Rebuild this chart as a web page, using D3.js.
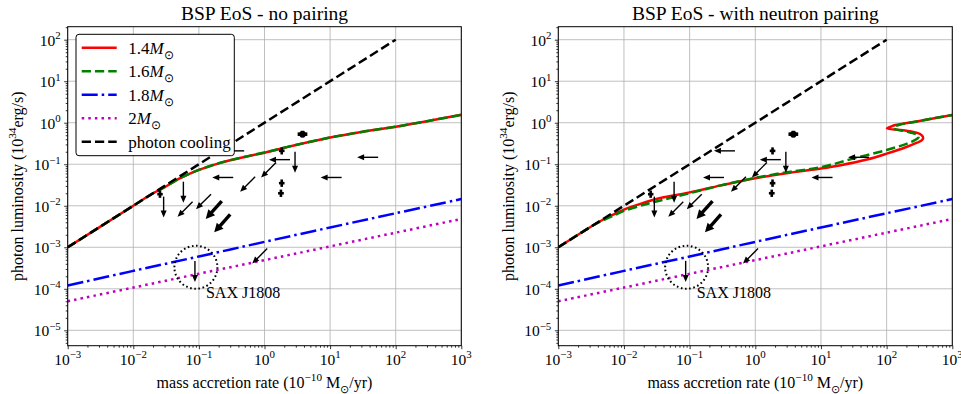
<!DOCTYPE html>
<html>
<head>
<meta charset="utf-8">
<script src="https://cdn.jsdelivr.net/npm/d3@7"></script>
<style>
  body { margin: 0; background: #fff; }
  svg { display: block; }
  text { font-family: "Liberation Serif", "Times New Roman", serif; fill: #000; }
</style>
</head>
<body>
<svg id="chart" width="961" height="394"></svg>
<script>
// ---------------------------------------------------------------
// Cooling curves: photon luminosity (1e34 erg/s) vs accretion rate (1e-10 Msun/yr)
// ---------------------------------------------------------------
const rateGrid = [1e-3, 1e-2, 1e-1, 1, 10, 100, 1000];
const lum18 = [1.2e-4, 2.7e-4, 6.0e-4, 1.35e-3, 3.0e-3, 6.6e-3, 1.45e-2];
const lum20 = [5.0e-5, 1.07e-4, 2.3e-4, 4.9e-4, 1.05e-3, 2.25e-3, 4.8e-3];

const coolRate = [1e-3, 1e2];
const coolLum = [1e-3, 1e2];

// no pairing (1.4 and 1.6 Msun nearly coincide)
const npRate14 = [0.001, 0.01, 0.02, 0.03, 0.05, 0.07, 0.1, 0.2, 0.5, 1, 3, 10, 30, 100, 300, 1000];
const npLum14  = [0.001, 0.01, 0.02, 0.028, 0.045, 0.058, 0.073, 0.105, 0.15, 0.19, 0.29, 0.44, 0.6, 0.8, 1.09, 1.55];
const npRate16 = [0.001, 0.01, 0.02, 0.03, 0.05, 0.07, 0.1, 0.2, 0.5, 1, 3, 10, 30, 100, 300, 1000];
const npLum16  = [0.001, 0.01, 0.02, 0.028, 0.045, 0.058, 0.073, 0.106, 0.151, 0.192, 0.292, 0.44, 0.6, 0.8, 1.09, 1.55];

// with neutron pairing (S-shaped branch at high accretion rate)
const prRate14 = [0.001, 0.003, 0.005, 0.007, 0.01, 0.02, 0.03, 0.1, 0.3, 1, 3, 10, 20, 50, 100, 200, 290, 345, 360, 340, 300, 200, 101, 115, 136, 300, 1000];
const prLum14  = [0.001, 0.003, 0.0048, 0.0062, 0.0081, 0.0118, 0.0143, 0.021, 0.031, 0.046, 0.061, 0.079, 0.095, 0.13, 0.18, 0.26, 0.33, 0.38, 0.43, 0.5, 0.56, 0.64, 0.73, 0.8, 0.88, 1.09, 1.53];
const prRate16 = [0.001, 0.003, 0.005, 0.007, 0.01, 0.02, 0.03, 0.1, 0.3, 1, 3, 10, 30, 100, 200, 260, 305, 300, 250, 205, 128, 140, 300, 1000];
const prLum16  = [0.001, 0.003, 0.0046, 0.0058, 0.0075, 0.0105, 0.0125, 0.02, 0.031, 0.047, 0.064, 0.085, 0.135, 0.22, 0.31, 0.37, 0.44, 0.5, 0.56, 0.61, 0.73, 0.84, 1.09, 1.53];

// ---------------------------------------------------------------
// Observed sources
// ---------------------------------------------------------------
// upper limits on accretion rate (arrow to the left)
const limRateX = [54, 15, 2.45, 0.334, 0.49];
const limRateY = [0.147, 0.048, 0.129, 0.048, 0.21];
// upper limits on luminosity (arrow down)
const limLumX = [2.92, 0.058, 0.029, 0.087];
const limLumY = [0.2, 0.038, 0.0166, 4.7e-4];
// upper limits on both (arrow down-left)
const limBothX = [1.5, 0.72, 0.08, 0.153, 1.1];
const limBothY = [0.11, 0.05, 0.0125, 0.019, 9.3e-4];
// several overlapping limits (heavy arrows)
const limManyX = [0.223, 0.3];
const limManyY = [0.013, 0.0062];
// measured sources with error bars
const srcX    = [3.8, 1.83, 1.83, 1.78, 0.0255];
const srcY    = [0.53, 0.21, 0.035, 0.020, 0.019];
const srcXLo  = [3.2, 1.66, 1.66, 1.61, 0.0232];
const srcXHi  = [4.5, 2.02, 2.02, 1.97, 0.0281];
const srcYLo  = [0.44, 0.172, 0.0285, 0.0163, 0.0155];
const srcYHi  = [0.64, 0.255, 0.043, 0.0245, 0.0233];
// highlighted source
const saxName = "SAX J1808";
const saxX = 0.09, saxY = 3.3e-4;
const saxLabelX = 0.128, saxLabelY = 6.0e-5;

// ---------------------------------------------------------------
// Axes, labels
// ---------------------------------------------------------------
const xTickExp = [-3, -2, -1, 0, 1, 2, 3];
const yTickExp = [-5, -4, -3, -2, -1, 0, 1, 2];
const panelTitles = ["BSP EoS - no pairing", "BSP EoS - with neutron pairing"];
const massLabels = ["1.4", "1.6", "1.8", "2"];
const coolingLabel = "photon cooling";

// ---------------------------------------------------------------
const svg = d3.select("#chart");
svg.append("rect").attr("width", 961).attr("height", 394).attr("fill", "#fff");

const plotTop = 26.7, plotBottom = 345.7;
const panels = [
  { left: 67.7, right: 461.3 },
  { left: 558.3, right: 952.3 }
];

const styles = {
  red:     { color: "#ff0000", dash: null },
  green:   { color: "#008000", dash: "9.25,4" },
  blue:    { color: "#0000ff", dash: "16,4,2.5,4" },
  magenta: { color: "#bf00bf", dash: "2.5,4.1" },
  black:   { color: "#000000", dash: "9.25,4" }
};
const LW = 2.5;

// text with superscripts / subscripts; parts: [str, kind] where kind in "", "sup", "sub", "it"
function richText(sel, parts, size) {
  let shift = 0;
  parts.forEach(([s, kind]) => {
    const t = sel.append("tspan").text(s);
    let target = 0, fs = size;
    if (kind === "sup") { target = -0.42 * size; fs = size * 0.7; }
    if (kind === "sub") { target = 0.3 * size; fs = size * 0.7; }
    if (kind === "it") t.attr("font-style", "italic");
    t.attr("font-size", fs).attr("dy", target - shift);
    shift = target;
  });
  return sel;
}

function pow10Parts(e) {
  return [["10", ""], [(e < 0 ? "\u2212" : "") + Math.abs(e), "sup"]];
}

function arrow(g, x1, y1, dx, dy, lw, hl, hw) {
  const len = Math.hypot(dx, dy), ux = dx / len, uy = dy / len;
  const x2 = x1 + dx, y2 = y1 + dy;
  const bx = x2 - ux * hl, by = y2 - uy * hl;
  g.append("line").attr("x1", x1).attr("y1", y1).attr("x2", bx + ux * 0.5).attr("y2", by + uy * 0.5)
    .attr("stroke", "#000").attr("stroke-width", lw);
  g.append("path")
    .attr("d", `M${x2},${y2}L${bx - uy * hw},${by + ux * hw}L${bx + uy * hw},${by - ux * hw}Z`)
    .attr("fill", "#000");
}

panels.forEach((p, pi) => {
  const x = d3.scaleLog().domain([1e-3, 1e3]).range([p.left, p.right]);
  const y = d3.scaleLog().domain([Math.pow(10, -5.371), Math.pow(10, 2.313)]).range([plotBottom, plotTop]);
  const g = svg.append("g");

  const clipId = "clip" + pi;
  svg.append("clipPath").attr("id", clipId).append("rect")
    .attr("x", p.left).attr("y", plotTop).attr("width", p.right - p.left).attr("height", plotBottom - plotTop);

  // grid
  const grid = g.append("g").attr("stroke", "#b0b0b0").attr("stroke-width", 0.8);
  xTickExp.forEach(e => grid.append("line")
    .attr("x1", x(Math.pow(10, e))).attr("x2", x(Math.pow(10, e)))
    .attr("y1", plotTop).attr("y2", plotBottom));
  yTickExp.forEach(e => grid.append("line")
    .attr("x1", p.left).attr("x2", p.right)
    .attr("y1", y(Math.pow(10, e))).attr("y2", y(Math.pow(10, e))));

  // ticks
  const minorX = [], minorY = [];
  for (let e = -3; e < 3; e++) for (let k = 2; k < 10; k++) minorX.push(k * Math.pow(10, e));
  for (let e = -6; e < 3; e++) for (let k = 2; k < 10; k++) {
    const v = k * Math.pow(10, e);
    if (v > y.domain()[0] && v < y.domain()[1]) minorY.push(v);
  }
  const majorX = xTickExp.map(e => Math.pow(10, e));
  const majorY = yTickExp.map(e => Math.pow(10, e));

  const axX = g.append("g").attr("transform", `translate(0,${plotBottom})`);
  axX.append("g").call(d3.axisBottom(x).tickValues(majorX).tickSize(3.5).tickFormat(""));
  axX.append("g").call(d3.axisBottom(x).tickValues(minorX).tickSize(2).tickFormat(""));
  const axY = g.append("g").attr("transform", `translate(${p.left},0)`);
  axY.append("g").call(d3.axisLeft(y).tickValues(majorY).tickSize(3.5).tickFormat(""));
  axY.append("g").call(d3.axisLeft(y).tickValues(minorY).tickSize(2).tickFormat(""));
  g.selectAll(".domain").remove();
  g.selectAll(".tick line").attr("stroke", "#000").attr("stroke-width", 0.8);

  // tick labels
  xTickExp.forEach(e => {
    const t = g.append("text").attr("x", x(Math.pow(10, e))).attr("y", 365).attr("text-anchor", "middle");
    richText(t, pow10Parts(e), 15.5);
  });
  yTickExp.forEach(e => {
    const t = g.append("text").attr("x", p.left - 7).attr("y", y(Math.pow(10, e)) + 6).attr("text-anchor", "end");
    richText(t, pow10Parts(e), 15.5);
  });

  // axis labels
  const xl = g.append("text").attr("x", (p.left + p.right) / 2).attr("y", 388).attr("text-anchor", "middle");
  richText(xl, [["mass accretion rate (10", ""], ["\u221210", "sup"], [" M", ""], ["\u2299", "sub"], ["/yr)", ""]], 16);
  const yl = g.append("text").attr("transform", `translate(${p.left - 44.5},${(plotTop + plotBottom) / 2}) rotate(-90)`)
    .attr("text-anchor", "middle");
  richText(yl, [["photon luminosity (10", ""], ["34", "sup"], ["erg/s)", ""]], 16);

  // title
  g.append("text").attr("x", (p.left + p.right) / 2).attr("y", 20).attr("text-anchor", "middle")
    .attr("font-size", 19.5).text(panelTitles[pi]);

  // curves
  const line = d3.line().x(d => x(d[0])).y(d => y(d[1])).curve(d3.curveCatmullRom.alpha(0.5));
  const curves = g.append("g").attr("clip-path", `url(#${clipId})`);
  function drawCurve(rates, lums, st) {
    curves.append("path").datum(rates.map((r, i) => [r, lums[i]]))
      .attr("d", line).attr("fill", "none")
      .attr("stroke", st.color).attr("stroke-width", LW)
      .attr("stroke-dasharray", st.dash);
  }
  if (pi === 0) {
    drawCurve(npRate14, npLum14, styles.red);
    drawCurve(npRate16, npLum16, styles.green);
  } else {
    drawCurve(prRate14, prLum14, styles.red);
    drawCurve(prRate16, prLum16, styles.green);
  }
  drawCurve(rateGrid, lum18, styles.blue);
  drawCurve(rateGrid, lum20, styles.magenta);
  drawCurve(coolRate, coolLum, styles.black);

  // observations
  const obs = g.append("g");
  limRateX.forEach((v, i) => arrow(obs, x(v), y(limRateY[i]), -21, 0, 1.4, 7, 3));
  limLumX.forEach((v, i) => arrow(obs, x(v), y(limLumY[i]), 0, 21, 1.4, 7, 3));
  limBothX.forEach((v, i) => arrow(obs, x(v), y(limBothY[i]), -15, 15, 1.4, 7, 3));
  limManyX.forEach((v, i) => arrow(obs, x(v), y(limManyY[i]), -16, 18, 3.4, 9, 4.5));
  srcX.forEach((v, i) => {
    const w = i === 0 ? 3.6 : 2.6;
    obs.append("line").attr("x1", x(srcXLo[i])).attr("x2", x(srcXHi[i]))
      .attr("y1", y(srcY[i])).attr("y2", y(srcY[i])).attr("stroke", "#000").attr("stroke-width", w);
    obs.append("line").attr("x1", x(v)).attr("x2", x(v))
      .attr("y1", y(srcYLo[i])).attr("y2", y(srcYHi[i])).attr("stroke", "#000").attr("stroke-width", w);
    if (i === 0) obs.append("circle").attr("cx", x(v)).attr("cy", y(srcY[i])).attr("r", 3.2).attr("fill", "#000");
  });
  obs.append("circle").attr("cx", x(saxX)).attr("cy", y(saxY)).attr("r", 21.5)
    .attr("fill", "none").attr("stroke", "#000").attr("stroke-width", 2).attr("stroke-dasharray", "1.6,2.6");
  obs.append("text").attr("x", x(saxLabelX)).attr("y", y(saxLabelY)).attr("font-size", 16).text(saxName);

  // frame
  g.append("rect").attr("x", p.left).attr("y", plotTop)
    .attr("width", p.right - p.left).attr("height", plotBottom - plotTop)
    .attr("fill", "none").attr("stroke", "#000").attr("stroke-width", 1);

  // legend
  if (pi === 0) {
    const lg = g.append("g");
    lg.append("rect").attr("x", 76).attr("y", 34.3).attr("width", 158.3).attr("height", 121.4)
      .attr("rx", 3).attr("fill", "#fff").attr("stroke", "#000").attr("stroke-width", 1);
    const entries = [styles.red, styles.green, styles.blue, styles.magenta, styles.black];
    entries.forEach((st, i) => {
      const ry = 47.7 + i * 23.5;
      lg.append("line").attr("x1", 81.7).attr("x2", 116.7).attr("y1", ry).attr("y2", ry)
        .attr("stroke", st.color).attr("stroke-width", LW).attr("stroke-dasharray", st.dash);
      const t = lg.append("text").attr("x", 128.3).attr("y", ry + 6);
      if (i < massLabels.length) {
        richText(t, [[massLabels[i], ""], ["M", "it"], ["\u2299", "sub"]], 17);
      } else {
        richText(t, [[coolingLabel, ""]], 17);
      }
    });
  }
});
</script>
</body>
</html>
